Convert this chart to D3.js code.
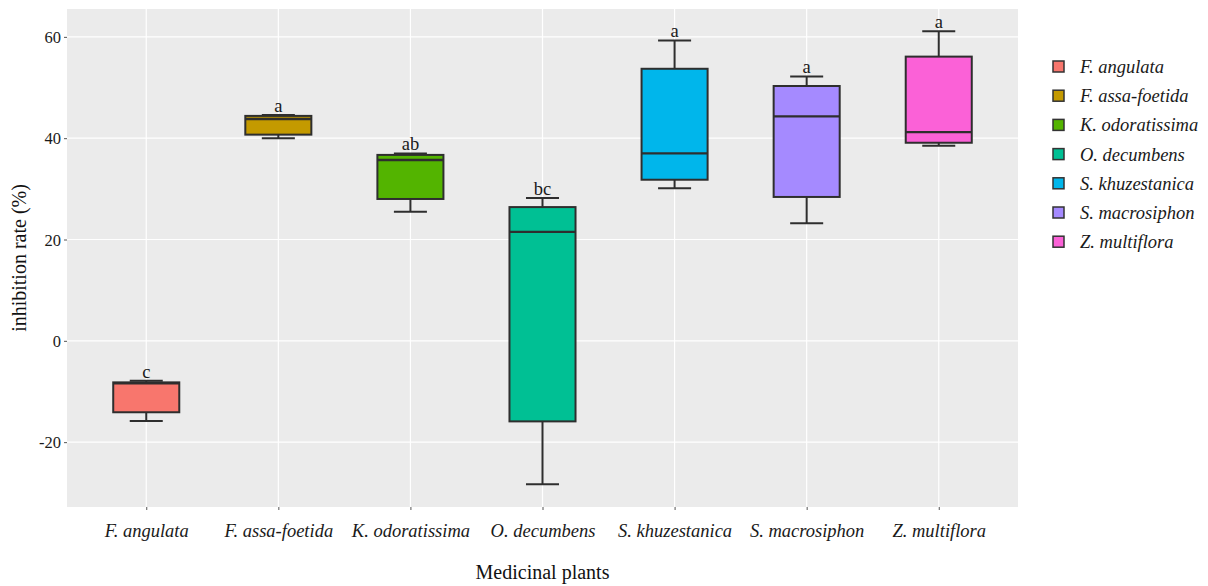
<!DOCTYPE html>
<meta charset="utf-8">
<script src="https://d3js.org/d3.v7.min.js"></script>
<style>
  body { margin: 0; background: #fff; }
  text { font-family: "Liberation Serif", "Times New Roman", serif; }
</style>
<div id="chart"></div>
<script>

  // data
  var plants = ["F. angulata", "F. assa-foetida", "K. odoratissima", "O. decumbens",
                "S. khuzestanica", "S. macrosiphon", "Z. multiflora"];
  var whiskerLow  = [-15.8, 40.0, 25.5, -28.3, 30.1, 23.2, 38.5];
  var q1          = [-14.1, 40.7, 28.0, -15.9, 31.8, 28.4, 39.1];
  var median      = [-8.4, 43.8, 35.7, 21.5, 37.0, 44.3, 41.2];
  var q3          = [-8.2, 44.4, 36.7, 26.4, 53.7, 50.3, 56.1];
  var whiskerHigh = [-7.9, 44.6, 37.0, 28.2, 59.3, 52.2, 61.1];
  var letters     = ["c", "a", "ab", "bc", "a", "a", "a"];
  var colors      = ["#F8766D", "#C49A00", "#53B400", "#00C094", "#00B6EB", "#A58AFF", "#FB61D7"];
  var yTicks      = [-20, 0, 20, 40, 60];

  var W = 1208, H = 586;
  var margin = {top: 9, right: 190, bottom: 79, left: 67},
    width = W - margin.left - margin.right,
    height = H - margin.top - margin.bottom;

  var svg = d3.select("#chart")
    .append("svg")
    .attr("width", W)
    .attr("height", H);

  var g = svg.append("g")
    .attr("transform", "translate(" + margin.left + "," + margin.top + ")");

  var x = d3.scalePoint()
    .domain(plants)
    .range([0, width])
    .padding(0.6);

  var y = d3.scaleLinear()
    .domain([-32.8, 65.5])
    .range([height, 0]);

  var color = d3.scaleOrdinal().domain(plants).range(colors);

  // panel background + grid
  g.append("rect")
    .attr("width", width)
    .attr("height", height)
    .attr("fill", "#EBEBEB");

  g.selectAll(".hgrid")
    .data(yTicks)
    .enter().append("line")
    .attr("x1", 0).attr("x2", width)
    .attr("y1", function (d) { return y(d); })
    .attr("y2", function (d) { return y(d); })
    .attr("stroke", "#fff").attr("stroke-width", 1.2);

  g.selectAll(".vgrid")
    .data(plants)
    .enter().append("line")
    .attr("x1", function (d) { return x(d); })
    .attr("x2", function (d) { return x(d); })
    .attr("y1", 0).attr("y2", height)
    .attr("stroke", "#fff").attr("stroke-width", 1.2);

  // axes
  var yAxis = g.append("g")
    .call(d3.axisLeft(y).tickValues(yTicks).tickSize(3).tickPadding(3)
      .tickFormat(function (d) { return String(d); }));
  var xAxis = g.append("g")
    .attr("transform", "translate(0," + height + ")")
    .call(d3.axisBottom(x).tickSize(3).tickPadding(14));

  [xAxis, yAxis].forEach(function (a) {
    a.attr("font-family", null).attr("font-size", null);
    a.select(".domain").remove();
    a.selectAll(".tick line").attr("stroke", "#555");
    a.selectAll("text").attr("fill", "#1a1a1a");
  });
  yAxis.selectAll("text").style("font-size", "16.5px").attr("dy", "0.34em");
  xAxis.selectAll("text").style("font-size", "18.5px").style("font-style", "italic");

  // boxplots
  var step = x.step();
  var boxW = step * 0.5, capW = step * 0.25;
  var stroke = "#2e2e2e";

  var boxes = g.selectAll(".box")
    .data(plants)
    .enter().append("g")
    .attr("class", "box")
    .attr("transform", function (d) { return "translate(" + x(d) + ",0)"; });

  boxes.append("line")
    .attr("x1", 0).attr("x2", 0)
    .attr("y1", function (d, i) { return y(whiskerHigh[i]); })
    .attr("y2", function (d, i) { return y(whiskerLow[i]); })
    .attr("stroke", stroke).attr("stroke-width", 2);

  boxes.append("line")
    .attr("x1", -capW / 2).attr("x2", capW / 2)
    .attr("y1", function (d, i) { return y(whiskerHigh[i]); })
    .attr("y2", function (d, i) { return y(whiskerHigh[i]); })
    .attr("stroke", stroke).attr("stroke-width", 2);

  boxes.append("line")
    .attr("x1", -capW / 2).attr("x2", capW / 2)
    .attr("y1", function (d, i) { return y(whiskerLow[i]); })
    .attr("y2", function (d, i) { return y(whiskerLow[i]); })
    .attr("stroke", stroke).attr("stroke-width", 2);

  boxes.append("rect")
    .attr("x", -boxW / 2)
    .attr("width", boxW)
    .attr("y", function (d, i) { return y(q3[i]); })
    .attr("height", function (d, i) { return y(q1[i]) - y(q3[i]); })
    .attr("fill", function (d) { return color(d); })
    .attr("stroke", stroke).attr("stroke-width", 2);

  boxes.append("line")
    .attr("x1", -boxW / 2).attr("x2", boxW / 2)
    .attr("y1", function (d, i) { return y(median[i]); })
    .attr("y2", function (d, i) { return y(median[i]); })
    .attr("stroke", stroke).attr("stroke-width", 2.4);

  boxes.append("text")
    .attr("text-anchor", "middle")
    .attr("y", function (d, i) { return y(whiskerHigh[i]) - 3; })
    .style("font-size", "18.5px")
    .attr("fill", "#1a1a1a")
    .text(function (d, i) { return letters[i]; });

  // axis titles
  svg.append("text")
    .attr("text-anchor", "middle")
    .attr("x", margin.left + width / 2)
    .attr("y", 579)
    .style("font-size", "20px")
    .attr("fill", "#111")
    .text("Medicinal plants");

  svg.append("text")
    .attr("text-anchor", "middle")
    .attr("transform", "translate(26," + (margin.top + height / 2) + ") rotate(-90)")
    .style("font-size", "20px")
    .attr("fill", "#111")
    .text("inhibition rate (%)");

  // legend
  var legend = svg.append("g")
    .attr("transform", "translate(1053,61)");

  var rows = legend.selectAll(".row")
    .data(plants)
    .enter().append("g")
    .attr("transform", function (d, i) { return "translate(0," + (i * 29.2) + ")"; });

  rows.append("rect")
    .attr("width", 11).attr("height", 11)
    .attr("fill", function (d) { return color(d); })
    .attr("stroke", "#333").attr("stroke-width", 1.5);

  rows.append("text")
    .attr("x", 27)
    .attr("y", 5.5)
    .attr("dy", "0.35em")
    .style("font-size", "18.5px")
    .style("font-style", "italic")
    .attr("fill", "#1a1a1a")
    .text(function (d) { return d; });

</script>
